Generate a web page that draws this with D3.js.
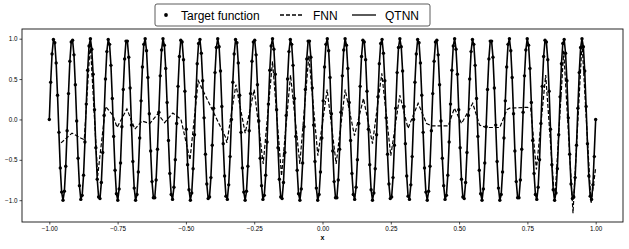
<!DOCTYPE html>
<html>
<head>
<meta charset="utf-8">
<script src="https://cdnjs.cloudflare.com/ajax/libs/d3/7.8.5/d3.min.js"></script>
<style>
	body { margin: 0; background: #fff; }
	svg text { font-family: 'Liberation Sans', Arial, Helvetica, sans-serif; fill: #000; }
</style>
</head>
<body>
<div id="chart"></div>
<script>
// target samples, 400 points evenly spaced on [-1, 1]
let targetY = [
	0.00, 0.46, 0.81, 0.99, 0.95, 0.70, 0.30, -0.16, -0.60, -0.90, -1.00, -0.89, -0.58, -0.14,
	0.32, 0.72, 0.96, 0.98, 0.80, 0.43, -0.02, -0.48, -0.82, -0.99, -0.94, -0.69, -0.28,
	0.19, 0.61, 0.91, 1.00, 0.87, 0.56, 0.12, -0.35, -0.74, -0.96, -0.98, -0.78, -0.41,
	0.05, 0.50, 0.84, 0.99, 0.93, 0.67, 0.26, -0.21, -0.63, -0.92, -1.00, -0.86, -0.54, -0.09,
	0.37, 0.75, 0.97, 0.97, 0.77, 0.39, -0.07, -0.52, -0.85, -1.00, -0.93, -0.65, -0.23,
	0.23, 0.65, 0.93, 1.00, 0.85, 0.52, 0.07, -0.39, -0.77, -0.97, -0.97, -0.75, -0.37,
	0.09, 0.54, 0.86, 1.00, 0.92, 0.63, 0.21, -0.26, -0.67, -0.93, -0.99, -0.84, -0.50, -0.05,
	0.41, 0.78, 0.98, 0.96, 0.74, 0.35, -0.12, -0.56, -0.87, -1.00, -0.91, -0.61, -0.19,
	0.28, 0.69, 0.94, 0.99, 0.82, 0.48, 0.02, -0.43, -0.80, -0.98, -0.96, -0.72, -0.32,
	0.14, 0.58, 0.89, 1.00, 0.90, 0.60, 0.16, -0.30, -0.70, -0.95, -0.99, -0.81, -0.46,
	0.00, 0.46, 0.81, 0.99, 0.95, 0.70, 0.30, -0.16, -0.60, -0.90, -1.00, -0.89, -0.58, -0.14,
	0.32, 0.72, 0.96, 0.98, 0.80, 0.43, -0.02, -0.48, -0.82, -0.99, -0.94, -0.69, -0.28,
	0.19, 0.61, 0.91, 1.00, 0.87, 0.56, 0.12, -0.35, -0.74, -0.96, -0.98, -0.78, -0.41,
	0.05, 0.50, 0.84, 0.99, 0.93, 0.67, 0.26, -0.21, -0.63, -0.92, -1.00, -0.86, -0.54, -0.09,
	0.37, 0.75, 0.97, 0.97, 0.77, 0.39, -0.07, -0.52, -0.85, -1.00, -0.93, -0.65, -0.23,
	0.23, 0.65, 0.93, 1.00, 0.85, 0.52, 0.07, -0.39, -0.77, -0.97, -0.97, -0.75, -0.37,
	0.09, 0.54, 0.86, 1.00, 0.92, 0.63, 0.21, -0.26, -0.67, -0.93, -0.99, -0.84, -0.50, -0.05,
	0.41, 0.78, 0.98, 0.96, 0.74, 0.35, -0.12, -0.56, -0.87, -1.00, -0.91, -0.61, -0.19,
	0.28, 0.69, 0.94, 0.99, 0.82, 0.48, 0.02, -0.43, -0.80, -0.98, -0.96, -0.72, -0.32,
	0.14, 0.58, 0.89, 1.00, 0.90, 0.60, 0.16, -0.30, -0.70, -0.95, -0.99, -0.81, -0.46,
	0.00, 0.46, 0.81, 0.99, 0.95, 0.70, 0.30, -0.16, -0.60, -0.90, -1.00, -0.89, -0.58, -0.14,
	0.32, 0.72, 0.96, 0.98, 0.80, 0.43, -0.02, -0.48, -0.82, -0.99, -0.94, -0.69, -0.28,
	0.19, 0.61, 0.91, 1.00, 0.87, 0.56, 0.12, -0.35, -0.74, -0.96, -0.98, -0.78, -0.41,
	0.05, 0.50, 0.84, 0.99, 0.93, 0.67, 0.26, -0.21, -0.63, -0.92, -1.00, -0.86, -0.54, -0.09,
	0.37, 0.75, 0.97, 0.97, 0.77, 0.39, -0.07, -0.52, -0.85, -1.00, -0.93, -0.65, -0.23,
	0.23, 0.65, 0.93, 1.00, 0.85, 0.52, 0.07, -0.39, -0.77, -0.97, -0.97, -0.75, -0.37,
	0.09, 0.54, 0.86, 1.00, 0.92, 0.63, 0.21, -0.26, -0.67, -0.93, -0.99, -0.84, -0.50, -0.05,
	0.41, 0.78, 0.98, 0.96, 0.74, 0.35, -0.12, -0.56, -0.87, -1.00, -0.91, -0.61, -0.19,
	0.28, 0.69, 0.94, 0.99, 0.82, 0.48, 0.02, -0.43, -0.80, -0.98, -0.96, -0.72, -0.32,
	0.14, 0.58, 0.89, 1.00, 0.90, 0.60, 0.16, -0.30, -0.70, -0.95, -0.99, -0.81, -0.46,
	0.00
];

// QTNN prediction at the same samples (visually on top of the target)
let qtnnY = [
	0.00, 0.46, 0.81, 0.99, 0.95, 0.70, 0.30, -0.16, -0.60, -0.90, -1.00, -0.89, -0.58, -0.14,
	0.32, 0.72, 0.96, 0.98, 0.80, 0.43, -0.02, -0.48, -0.82, -0.99, -0.94, -0.69, -0.28,
	0.19, 0.61, 0.91, 1.00, 0.87, 0.56, 0.12, -0.35, -0.74, -0.96, -0.98, -0.78, -0.41,
	0.05, 0.50, 0.84, 0.99, 0.93, 0.67, 0.26, -0.21, -0.63, -0.92, -1.00, -0.86, -0.54, -0.09,
	0.37, 0.75, 0.97, 0.97, 0.77, 0.39, -0.07, -0.52, -0.85, -1.00, -0.93, -0.65, -0.23,
	0.23, 0.65, 0.93, 1.00, 0.85, 0.52, 0.07, -0.39, -0.77, -0.97, -0.97, -0.75, -0.37,
	0.09, 0.54, 0.86, 1.00, 0.92, 0.63, 0.21, -0.26, -0.67, -0.93, -0.99, -0.84, -0.50, -0.05,
	0.41, 0.78, 0.98, 0.96, 0.74, 0.35, -0.12, -0.56, -0.87, -1.00, -0.91, -0.61, -0.19,
	0.28, 0.69, 0.94, 0.99, 0.82, 0.48, 0.02, -0.43, -0.80, -0.98, -0.96, -0.72, -0.32,
	0.14, 0.58, 0.89, 1.00, 0.90, 0.60, 0.16, -0.30, -0.70, -0.95, -0.99, -0.81, -0.46,
	0.00, 0.46, 0.81, 0.99, 0.95, 0.70, 0.30, -0.16, -0.60, -0.90, -1.00, -0.89, -0.58, -0.14,
	0.32, 0.72, 0.96, 0.98, 0.80, 0.43, -0.02, -0.48, -0.82, -0.99, -0.94, -0.69, -0.28,
	0.19, 0.61, 0.91, 1.00, 0.87, 0.56, 0.12, -0.35, -0.74, -0.96, -0.98, -0.78, -0.41,
	0.05, 0.50, 0.84, 0.99, 0.93, 0.67, 0.26, -0.21, -0.63, -0.92, -1.00, -0.86, -0.54, -0.09,
	0.37, 0.75, 0.97, 0.97, 0.77, 0.39, -0.07, -0.52, -0.85, -1.00, -0.93, -0.65, -0.23,
	0.23, 0.65, 0.93, 1.00, 0.85, 0.52, 0.07, -0.39, -0.77, -0.97, -0.97, -0.75, -0.37,
	0.09, 0.54, 0.86, 1.00, 0.92, 0.63, 0.21, -0.26, -0.67, -0.93, -0.99, -0.84, -0.50, -0.05,
	0.41, 0.78, 0.98, 0.96, 0.74, 0.35, -0.12, -0.56, -0.87, -1.00, -0.91, -0.61, -0.19,
	0.28, 0.69, 0.94, 0.99, 0.82, 0.48, 0.02, -0.43, -0.80, -0.98, -0.96, -0.72, -0.32,
	0.14, 0.58, 0.89, 1.00, 0.90, 0.60, 0.16, -0.30, -0.70, -0.95, -0.99, -0.81, -0.46,
	0.00, 0.46, 0.81, 0.99, 0.95, 0.70, 0.30, -0.16, -0.60, -0.90, -1.00, -0.89, -0.58, -0.14,
	0.32, 0.72, 0.96, 0.98, 0.80, 0.43, -0.02, -0.48, -0.82, -0.99, -0.94, -0.69, -0.28,
	0.19, 0.61, 0.91, 1.00, 0.87, 0.56, 0.12, -0.35, -0.74, -0.96, -0.98, -0.78, -0.41,
	0.05, 0.50, 0.84, 0.99, 0.93, 0.67, 0.26, -0.21, -0.63, -0.92, -1.00, -0.86, -0.54, -0.09,
	0.37, 0.75, 0.97, 0.97, 0.77, 0.39, -0.07, -0.52, -0.85, -1.00, -0.93, -0.65, -0.23,
	0.23, 0.65, 0.93, 1.00, 0.85, 0.52, 0.07, -0.39, -0.77, -0.97, -0.97, -0.75, -0.37,
	0.09, 0.54, 0.86, 1.00, 0.92, 0.63, 0.21, -0.26, -0.67, -0.93, -0.99, -0.84, -0.50, -0.05,
	0.41, 0.78, 0.98, 0.96, 0.74, 0.35, -0.12, -0.56, -0.87, -1.00, -0.91, -0.61, -0.19,
	0.28, 0.69, 0.94, 0.99, 0.82, 0.48, 0.02, -0.43, -0.80, -0.98, -0.96, -0.72, -0.32,
	0.14, 0.58, 0.89, 1.00, 0.90, 0.60, 0.16, -0.30, -0.70, -0.95, -0.99, -0.81, -0.40,
	0.00
];

// FNN prediction
let fnnX = [
	-0.957, -0.917, -0.885, -0.872, -0.850, -0.823, -0.794, -0.767, -0.752, -0.716,
	-0.687, -0.661, -0.632, -0.603, -0.578, -0.548, -0.518, -0.485, -0.455, -0.355,
	-0.350, -0.317, -0.283, -0.250, -0.217, -0.183, -0.150, -0.117, -0.083, -0.050,
	-0.017, 0.017, 0.050, 0.083, 0.117, 0.150, 0.183, 0.217, 0.250, 0.283,
	0.313, 0.350, 0.381, 0.400, 0.460, 0.483, 0.509, 0.550, 0.575, 0.600,
	0.649, 0.675, 0.685, 0.750, 0.762, 0.783, 0.817, 0.850, 0.883, 0.917,
	0.950, 0.983, 1.000
];
let fnnY = [
	-0.29, -0.17, -0.23, -0.25, 0.95, -0.70, 0.16, 0.05, -0.10, 0.13,
	-0.12, -0.02, -0.05, 0.07, -0.04, 0.08, 0.00, -0.50, 0.48, -0.22,
	-0.29, 0.43, -0.17, 0.37, -0.55, 0.72, -0.70, 0.55, -0.55, 0.79,
	-0.45, 0.37, -0.55, 0.37, -0.20, 0.26, -0.30, 0.57, -0.45, 0.30,
	-0.11, 0.20, -0.05, -0.08, -0.08, 0.14, -0.05, 0.20, -0.07, -0.10,
	-0.10, 0.12, 0.14, 0.15, 0.14, -0.62, 0.55, -1.02, 0.85, -1.16,
	0.95, -1.04, -0.60
];

let xTicks		= [-1, -0.75, -0.5, -0.25, 0, 0.25, 0.5, 0.75, 1];
let yTicks		= [-1, -0.5, 0, 0.5, 1];
let seriesNames	= ['Target function', 'FNN', 'QTNN'];

let canvasWidth		= 629;
let canvasHeight	= 249;
let margin			= { top: 29, right: 6, bottom: 27, left: 22 };
let width			= canvasWidth - margin.left - margin.right;
let height			= canvasHeight - margin.top - margin.bottom;

let svg = d3.select('#chart').append('svg')
	.attr('width', canvasWidth)
	.attr('height', canvasHeight);

let canvas = svg.append('g')
	.attr('transform', 'translate(' + margin.left + ',' + margin.top + ')');

let x = d3.scaleLinear().domain([-1.1, 1.1]).range([0, width]);
let y = d3.scaleLinear().domain([-1.27, 1.12]).range([height, 0]);

// sample index -> x position on [-1, 1]
let sampleX = d3.scaleLinear().domain([0, targetY.length - 1]).range([-1, 1]);

let targetPts	= targetY.map((v, i) => [sampleX(i), v]);
let qtnnPts		= qtnnY.map((v, i) => [sampleX(i), v]);
let fnnPts		= d3.zip(fnnX, fnnY);

let line = d3.line().x(d => x(d[0])).y(d => y(d[1]));

// axes
let xAxis = canvas.append('g')
	.attr('transform', 'translate(0,' + height + ')')
	.call(d3.axisBottom(x).tickValues(xTicks).tickSize(2.5).tickPadding(2));

let yAxis = canvas.append('g')
	.call(d3.axisLeft(y).tickValues(yTicks).tickSize(2.5).tickPadding(2));

[xAxis, yAxis].forEach(a => {
	a.select('.domain').remove();
	a.selectAll('line').attr('stroke', '#000').attr('stroke-width', 0.7);
	a.selectAll('text').style('font-size', '6.3px').attr('fill', '#000');
});
xAxis.selectAll('text').text(d => d3.format('.2f')(d).replace('-', '\u2212'));
yAxis.selectAll('text').text(d => d3.format('.1f')(d).replace('-', '\u2212'));

canvas.append('rect')
	.attr('width', width)
	.attr('height', height)
	.attr('fill', 'none')
	.attr('stroke', '#111')
	.attr('stroke-width', 0.9);

canvas.append('text')
	.attr('x', x(0))
	.attr('y', height + 18)
	.attr('text-anchor', 'middle')
	.style('font-size', '7px')
	.style('font-weight', 'bold')
	.text('x');

// series
let plot = canvas.append('g');

plot.append('path')
	.attr('d', line(qtnnPts))
	.attr('fill', 'none')
	.attr('stroke', '#000')
	.attr('stroke-width', 1.6)
	.attr('stroke-linejoin', 'round');

plot.append('path')
	.attr('d', line(fnnPts))
	.attr('fill', 'none')
	.attr('stroke', '#000')
	.attr('stroke-width', 1.2)
	.attr('stroke-dasharray', '4,2');

plot.selectAll('circle.target').data(targetPts).enter().append('circle')
	.attr('class', 'target')
	.attr('cx', d => x(d[0]))
	.attr('cy', d => y(d[1]))
	.attr('r', 1.7)
	.attr('fill', '#000');

// legend
let legend = svg.append('g').attr('transform', 'translate(155,4)');

legend.append('rect')
	.attr('width', 275)
	.attr('height', 22)
	.attr('rx', 2)
	.attr('fill', '#fff')
	.attr('stroke', '#333')
	.attr('stroke-width', 0.8);

let itemX	= [0, 125, 197];

let items	= legend.selectAll('g.item').data(seriesNames).enter().append('g')
	.attr('class', 'item')
	.attr('transform', (d, i) => 'translate(' + itemX[i] + ',11)');

items.each(function (d, i) {
	let g = d3.select(this);
	if (i === 0) {
		g.append('circle').attr('cx', 11).attr('cy', 0).attr('r', 1.9).attr('fill', '#000');
	} else {
		g.append('line').attr('x1', 0).attr('x2', 24).attr('y1', 0).attr('y2', 0)
			.attr('stroke', '#000').attr('stroke-width', 1.3)
			.attr('stroke-dasharray', i === 1 ? '4,2' : null);
	}
	g.append('text')
		.attr('x', i === 0 ? 26 : 33)
		.attr('y', 4.5)
		.style('font-size', '12px')
		.text(d);
});
</script>
</body>
</html>
